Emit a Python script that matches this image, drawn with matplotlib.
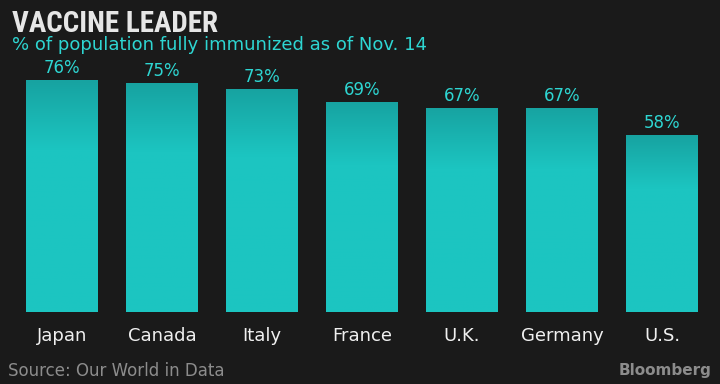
import numpy as np
import matplotlib.pyplot as plt
from matplotlib import font_manager
from matplotlib.colors import LinearSegmentedColormap

countries = ["Japan", "Canada", "Italy", "France", "U.K.", "Germany", "U.S."]
immunized = [76, 75, 73, 69, 67, 67, 58]

# condensed font for the headline if one is installed
fonts = font_manager.fontManager.ttflist
names = {f.name for f in fonts}
head_font = dict(family="DejaVu Sans", fontsize=17)
for cand in ["Roboto Condensed", "Liberation Sans Narrow", "DejaVu Sans Condensed",
             "Open Sans Condensed"]:
    if cand in names:
        head_font = dict(family=cand, fontsize=21)
        break
else:
    if any(f.name == "DejaVu Sans" and f.stretch == "condensed" and f.weight == "bold"
           for f in fonts):
        head_font = dict(family="DejaVu Sans", stretch="condensed", fontsize=20)

bg = "#1a1a1a"
teal_text = "#2ed6d2"
fig = plt.figure(figsize=(7.2, 3.84), dpi=100, facecolor=bg)
ax = fig.add_axes([12 / 720, 72 / 384, 700 / 720, 252 / 384])
ax.set_facecolor(bg)

x = np.arange(len(countries))
bars = ax.bar(x, immunized, width=0.72, color="none", edgecolor="none")

# darker band at the top of each bar, flat colour below
cmap = LinearSegmentedColormap.from_list(
    "bar", [(0, "#1cc6c2"), (0.7, "#1cc5c1"), (1, "#17a3a1")])
grad = np.linspace(0, 1, 256).reshape(-1, 1)
for b, v in zip(bars, immunized):
    x0 = b.get_x()
    im = ax.imshow(grad, cmap=cmap, aspect="auto", origin="lower",
                   extent=[x0, x0 + b.get_width(), 0, v], zorder=2)
    im.set_clip_path(b)
    ax.text(x0 + b.get_width() / 2, v + 2.3, f"{v}%", ha="center", va="baseline",
            color=teal_text, fontsize=12)

ax.set_xlim(-0.5, len(countries) - 0.5)
ax.set_ylim(0, 252 / 3.05)
ax.set_xticks(x)
ax.set_xticklabels(countries, fontsize=13, color="#f0f0f0")
ax.tick_params(axis="x", length=0, pad=11)
ax.set_yticks([])
for s in ax.spines.values():
    s.set_visible(False)

fig.text(12 / 720, 1 - 32 / 384, "VACCINE LEADER", ha="left", va="baseline",
         fontweight="bold", color="#e6e6e6", **head_font)
fig.text(12 / 720, 1 - 50 / 384, "% of population fully immunized as of Nov. 14",
         ha="left", va="baseline", fontsize=13, color=teal_text)
fig.text(8 / 720, 1 - 376 / 384, "Source: Our World in Data", ha="left", va="baseline",
         fontsize=12, color="#8c8c8c")
fig.text(712 / 720, 1 - 375 / 384, "Bloomberg", ha="right", va="baseline",
         fontsize=11, fontweight="bold", color="#8c8c8c")

fig.savefig("out.png", dpi=100, facecolor=bg)
